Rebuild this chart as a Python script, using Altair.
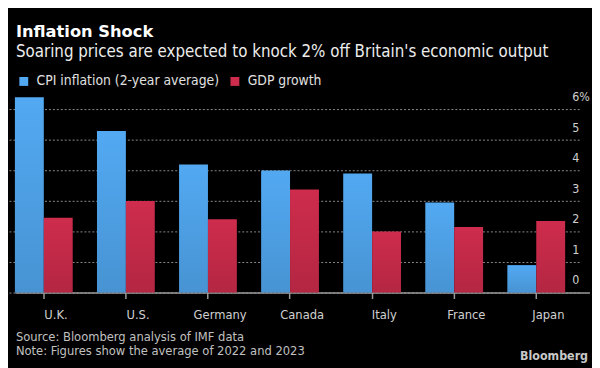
import altair as alt
import pandas as pd

# ---- data ----
countries = ["U.K.", "U.S.", "Germany", "Canada", "Italy", "France", "Japan"]
cpi_values = [6.4, 5.3, 4.2, 4.0, 3.9, 2.95, 0.9]
gdp_values = [2.45, 3.0, 2.4, 3.38, 2.0, 2.15, 2.35]
series_names = ["CPI inflation (2-year average)", "GDP growth"]
series_colors = ["#52A9F2", "#CE2C4C"]
y_ticks = [0, 1, 2, 3, 4, 5, 6]

title_text = "Inflation Shock"
subtitle_text = "Soaring prices are expected to knock 2% off Britain's economic output"
source_text = "Source: Bloomberg analysis of IMF data"
note_text = "Note: Figures show the average of 2022 and 2023"
brand_text = "Bloomberg"

FONT = "DejaVu Sans Condensed, DejaVu Sans"
BOLD_FONT = "DejaVu Sans"

rows = []
for c, a, b in zip(countries, cpi_values, gdp_values):
    rows.append({"country": c, "series": series_names[0], "value": a})
    rows.append({"country": c, "series": series_names[1], "value": b})
df = pd.DataFrame(rows)

x_enc = alt.X(
    "country:N",
    sort=countries,
    scale=alt.Scale(domain=countries, paddingInner=0, paddingOuter=0, range=[0, 582.4]),
    axis=alt.Axis(
        title=None, bandPosition=0.352, labelAngle=0, grid=False,
        domainColor="#9a9a9a", domainWidth=1.5,
        tickColor="#9a9a9a", tickSize=6, tickWidth=1.5,
        labelColor="#d0d0d0", labelFontSize=13, labelFont=FONT, labelPadding=10,
    ),
)
xo_enc = alt.XOffset(
    "series:N",
    scale=alt.Scale(domain=series_names, paddingInner=0, paddingOuter=0.42, align=0),
)
y_enc = alt.Y(
    "value:Q",
    scale=alt.Scale(domain=[0, 6.5], nice=False, zero=True),
    axis=alt.Axis(
        orient="right", values=y_ticks, title=None,
        grid=True, gridDash=[2, 2], gridColor="#8a8a8a", gridWidth=1,
        domain=False, ticks=False, tickSize=0,
        labelPadding=-7.5, labelAlign="left", labelBaseline="alphabetic", labelOffset=-9,
        labelColor="#d0d0d0", labelFontSize=12.5, labelFont=FONT,
        labelExpr="datum.value == 6 ? '6%' : datum.label",
    ),
)

bars = alt.Chart(df).mark_bar(opacity=1).encode(
    x=x_enc,
    xOffset=xo_enc,
    y=y_enc,
    color=alt.Color(
        "series:N",
        scale=alt.Scale(domain=series_names, range=series_colors),
        legend=alt.Legend(
            title=None, orient="none", legendX=2, legendY=-20,
            direction="horizontal", symbolType="square", symbolSize=81,
            symbolStrokeWidth=0, symbolOpacity=1,
            labelColor="#e0e0e0", labelFontSize=14, labelFont=FONT,
            labelOffset=6, columnPadding=8, padding=0, labelLimit=0,
        ),
    ),
)

shade = alt.Chart(df).mark_bar(
    fill={
        "gradient": "linear", "x1": 0, "y1": 0, "x2": 0, "y2": 1,
        "stops": [
            {"offset": 0, "color": "rgba(0,0,0,0)"},
            {"offset": 1, "color": "rgba(0,0,0,0.13)"},
        ],
    }
).encode(x=x_enc, xOffset=xo_enc, y=y_enc)


def label(text, x, y, size, color, weight="normal", align="left", font=FONT):
    return alt.Chart(pd.DataFrame({"t": [text]})).mark_text(
        align=align, baseline="alphabetic", font=font, fontSize=size,
        fontWeight=weight, color=color,
    ).encode(text="t:N", x=alt.value(x), y=alt.value(y))


title = label(title_text, 1, -58.5, 16.5, "#ffffff", "bold", font=BOLD_FONT)
subtitle = label(subtitle_text, 1, -37.7, 17, "#ececec")
source = label(source_text, 1, 250.5, 13, "#c0c0c0")
note = label(note_text, 1, 264.5, 13, "#c0c0c0")
brand = label(brand_text, 581, 269, 12.5, "#c8c8c8", "bold", align="right")

chart = alt.layer(bars, shade, title, subtitle, source, note, brand).properties(
    width=572,
    height=201,
    padding={"left": 7, "top": 85, "right": 13, "bottom": 74},
    autosize=alt.AutoSizeParams(type="none"),
    background="#000000",
).configure_view(stroke=None)

chart.save("out.html", embed_options={"renderer": "svg", "actions": False})
